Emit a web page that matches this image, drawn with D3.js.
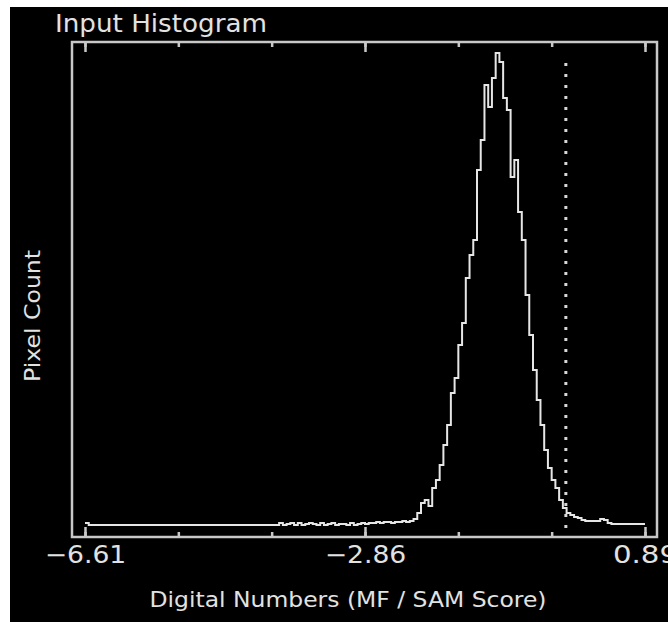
<!DOCTYPE html>
<html>
<head>
<meta charset="utf-8">
<script src="https://cdnjs.cloudflare.com/ajax/libs/d3/7.8.5/d3.min.js"></script>
<style>
  body { margin: 0; background: #fff; }
  text { font-family: "DejaVu Sans", sans-serif; fill: #e2e2e2; }
</style>
</head>
<body>
<div id="chart"></div>
<script>
// histogram bins, 0.05 wide, starting at the minimum score
var binStart = -6.61;
var binWidth = 0.05;
var counts = [
  20, 0, 0, 0, 0, 0, 0, 0, 0, 0, 0, 0, 0, 0, 0, 0, 0, 0, 0, 0,
  0, 0, 0, 0, 0, 0, 0, 0, 0, 0, 0, 0, 0, 0, 0, 0, 0, 0, 0, 0,
  0, 0, 0, 0, 0, 0, 0, 0, 0, 0, 0, 0,
  20, 0, 10, 20, 0, 20, 0, 10, 20, 10, 0, 20, 0, 10, 20, 0, 10, 10, 0, 20, 0, 10, 20,
  10, 20, 20, 30, 20, 30, 30, 20, 30, 30, 40, 30, 40,
  60, 120, 220, 250, 190, 370, 450, 600, 800, 1000,
  1320, 1470, 1800, 2020, 2470, 2700, 2850, 3550, 3850, 4400,
  4180, 4470, 4720, 4630, 4270, 4150, 3480, 3650, 3130, 2850,
  2300, 1900, 1550, 1250, 1000, 750, 570, 450, 370, 250,
  170, 120, 100, 80, 70, 50, 40, 40, 40, 40,
  60, 50, 20,
  10, 10, 10, 10, 10, 10, 10, 10, 10
];
var tickValues = [-6.61, -5.36, -4.11, -2.86, -1.61, -0.36, 0.89];
var labelValues = [-6.61, -2.86, 0.89];
var threshold = -0.17;

var data = counts.map(function(c, i) {
  return { x: binStart + i * binWidth, count: c };
});
// closing point at the right edge
data.push({ x: 0.89, count: counts[counts.length - 1] });

var W = 668, H = 622;
var frame = { left: 72, right: 657, top: 42, bottom: 537 };

var svg = d3.select("#chart").append("svg")
    .attr("width", W)
    .attr("height", H);

svg.append("rect")
    .attr("x", 10).attr("y", 7)
    .attr("width", W - 10).attr("height", H - 7)
    .attr("fill", "#000");

var x = d3.scaleLinear()
    .domain([-6.61, 0.89])
    .range([85, 645]);

var y = d3.scaleLinear()
    .domain([-120, 4830])
    .range([frame.bottom, frame.top]);

// histogram line
var line = d3.line()
    .curve(d3.curveStepAfter)
    .x(function(d) { return x(d.x); })
    .y(function(d) { return y(d.count); });

svg.append("path")
    .datum(data)
    .attr("fill", "none")
    .attr("stroke", "#e6e6e6")
    .attr("stroke-width", 2)
    .attr("d", line);

// threshold
svg.append("line")
    .attr("x1", x(threshold)).attr("x2", x(threshold))
    .attr("y1", 63).attr("y2", 528)
    .attr("stroke", "#d8d8d8")
    .attr("stroke-width", 3)
    .attr("stroke-dasharray", "3,8");

// frame
svg.append("rect")
    .attr("x", frame.left).attr("y", frame.top)
    .attr("width", frame.right - frame.left)
    .attr("height", frame.bottom - frame.top)
    .attr("fill", "none")
    .attr("stroke", "#c8c8c8")
    .attr("stroke-width", 2.5);

function styleAxis(g) {
  g.select(".domain").remove();
  g.selectAll("line").attr("stroke", "#c8c8c8").attr("stroke-width", 2.5);
}

svg.append("g")
    .attr("transform", "translate(0," + frame.bottom + ")")
    .call(d3.axisBottom(x).tickValues(tickValues).tickSize(-5).tickFormat(""))
    .call(styleAxis);

svg.append("g")
    .attr("transform", "translate(0," + frame.top + ")")
    .call(d3.axisTop(x).tickValues(tickValues).tickSize(-5).tickFormat(""))
    .call(styleAxis);

svg.append("g")
    .attr("transform", "translate(0," + frame.top + ")")
    .call(d3.axisTop(x).tickValues(labelValues).tickSize(-10).tickFormat(""))
    .call(styleAxis);

var bottomMajor = svg.append("g")
    .attr("transform", "translate(0," + frame.bottom + ")")
    .call(d3.axisBottom(x).tickValues(labelValues).tickSize(-10)
      .tickFormat(function(d) { return d3.format(".2f")(d).replace("-", "\u2212"); }))
    .call(styleAxis);

bottomMajor.selectAll("text")
    .attr("y", 26)
    .attr("dy", null)
    .attr("fill", "#e2e2e2")
    .style("font-size", "24px")
    .attr("textLength", function() { return this.textContent.length * 16.3; })
    .attr("lengthAdjust", "spacingAndGlyphs");

// titles
svg.append("text")
    .attr("x", 55)
    .attr("y", 32)
    .style("font-size", "24px")
    .attr("textLength", 212)
    .attr("lengthAdjust", "spacingAndGlyphs")
    .text("Input Histogram");

svg.append("text")
    .attr("x", 348)
    .attr("y", 607)
    .attr("text-anchor", "middle")
    .style("font-size", "21px")
    .attr("textLength", 397)
    .attr("lengthAdjust", "spacingAndGlyphs")
    .text("Digital Numbers (MF / SAM Score)");

svg.append("text")
    .attr("transform", "translate(40,316) rotate(-90)")
    .attr("text-anchor", "middle")
    .style("font-size", "22px")
    .attr("textLength", 132)
    .attr("lengthAdjust", "spacingAndGlyphs")
    .text("Pixel Count");
</script>
</body>
</html>
